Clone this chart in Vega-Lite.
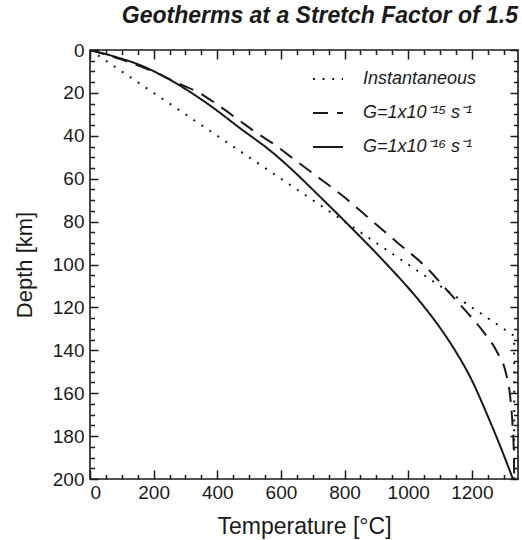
{
  "$schema": "https://vega.github.io/schema/vega-lite/v6.json",
  "width": 428,
  "height": 429,
  "autosize": {"type": "none"},
  "padding": {"left": 90, "top": 50, "right": 4, "bottom": 61},
  "background": "white",
  "config": {
    "font": "Liberation Sans",
    "view": {"stroke": "#1a1a1a", "strokeWidth": 1.6},
    "axis": {"grid": false, "domain": false, "tickColor": "#1a1a1a", "tickWidth": 1.5, "labelColor": "#1a1a1a", "titleColor": "#1a1a1a", "labelFont": "Liberation Sans", "titleFont": "Liberation Sans", "titleFontWeight": "normal"}
  },
  "title": {"text": "Geotherms at a Stretch Factor of 1.5", "anchor": "end", "frame": "group", "fontSize": 23, "fontWeight": "bold", "fontStyle": "italic", "font": "Liberation Sans", "color": "#1a1a1a", "baseline": "alphabetic", "offset": -5},
  "data": {"values": [
    {"series": "Instantaneous", "i": 0, "T": 0, "depth": 0},
    {"series": "Instantaneous", "i": 1, "T": 1333, "depth": 133.3},
    {"series": "Instantaneous", "i": 2, "T": 1333, "depth": 200},
    {"series": "G=1x10⁻¹⁵ s⁻¹", "i": 0, "T": 0, "depth": 0},
    {"series": "G=1x10⁻¹⁵ s⁻¹", "i": 1, "T": 100, "depth": 4.5},
    {"series": "G=1x10⁻¹⁵ s⁻¹", "i": 2, "T": 199, "depth": 10.1},
    {"series": "G=1x10⁻¹⁵ s⁻¹", "i": 3, "T": 283, "depth": 15.9},
    {"series": "G=1x10⁻¹⁵ s⁻¹", "i": 4, "T": 346, "depth": 20.2},
    {"series": "G=1x10⁻¹⁵ s⁻¹", "i": 5, "T": 409, "depth": 26.4},
    {"series": "G=1x10⁻¹⁵ s⁻¹", "i": 6, "T": 467, "depth": 32.6},
    {"series": "G=1x10⁻¹⁵ s⁻¹", "i": 7, "T": 525, "depth": 38.8},
    {"series": "G=1x10⁻¹⁵ s⁻¹", "i": 8, "T": 582, "depth": 44.3},
    {"series": "G=1x10⁻¹⁵ s⁻¹", "i": 9, "T": 624, "depth": 49},
    {"series": "G=1x10⁻¹⁵ s⁻¹", "i": 10, "T": 700, "depth": 57.5},
    {"series": "G=1x10⁻¹⁵ s⁻¹", "i": 11, "T": 790, "depth": 67.5},
    {"series": "G=1x10⁻¹⁵ s⁻¹", "i": 12, "T": 871, "depth": 77.7},
    {"series": "G=1x10⁻¹⁵ s⁻¹", "i": 13, "T": 960, "depth": 89},
    {"series": "G=1x10⁻¹⁵ s⁻¹", "i": 14, "T": 1060, "depth": 101.8},
    {"series": "G=1x10⁻¹⁵ s⁻¹", "i": 15, "T": 1122, "depth": 112},
    {"series": "G=1x10⁻¹⁵ s⁻¹", "i": 16, "T": 1180, "depth": 121.5},
    {"series": "G=1x10⁻¹⁵ s⁻¹", "i": 17, "T": 1237, "depth": 131.5},
    {"series": "G=1x10⁻¹⁵ s⁻¹", "i": 18, "T": 1280, "depth": 141},
    {"series": "G=1x10⁻¹⁵ s⁻¹", "i": 19, "T": 1306, "depth": 150},
    {"series": "G=1x10⁻¹⁵ s⁻¹", "i": 20, "T": 1320, "depth": 161},
    {"series": "G=1x10⁻¹⁵ s⁻¹", "i": 21, "T": 1328, "depth": 175},
    {"series": "G=1x10⁻¹⁵ s⁻¹", "i": 22, "T": 1332, "depth": 188},
    {"series": "G=1x10⁻¹⁵ s⁻¹", "i": 23, "T": 1333, "depth": 200},
    {"series": "G=1x10⁻¹⁶ s⁻¹", "i": 0, "T": 0, "depth": 0},
    {"series": "G=1x10⁻¹⁶ s⁻¹", "i": 1, "T": 80, "depth": 3.2},
    {"series": "G=1x10⁻¹⁶ s⁻¹", "i": 2, "T": 157, "depth": 7},
    {"series": "G=1x10⁻¹⁶ s⁻¹", "i": 3, "T": 262, "depth": 14.8},
    {"series": "G=1x10⁻¹⁶ s⁻¹", "i": 4, "T": 367, "depth": 24.8},
    {"series": "G=1x10⁻¹⁶ s⁻¹", "i": 5, "T": 472, "depth": 36.5},
    {"series": "G=1x10⁻¹⁶ s⁻¹", "i": 6, "T": 577, "depth": 48.2},
    {"series": "G=1x10⁻¹⁶ s⁻¹", "i": 7, "T": 629, "depth": 55},
    {"series": "G=1x10⁻¹⁶ s⁻¹", "i": 8, "T": 720, "depth": 68},
    {"series": "G=1x10⁻¹⁶ s⁻¹", "i": 9, "T": 818, "depth": 82.4},
    {"series": "G=1x10⁻¹⁶ s⁻¹", "i": 10, "T": 930, "depth": 99.5},
    {"series": "G=1x10⁻¹⁶ s⁻¹", "i": 11, "T": 1038, "depth": 117.5},
    {"series": "G=1x10⁻¹⁶ s⁻¹", "i": 12, "T": 1100, "depth": 129.5},
    {"series": "G=1x10⁻¹⁶ s⁻¹", "i": 13, "T": 1149, "depth": 140.5},
    {"series": "G=1x10⁻¹⁶ s⁻¹", "i": 14, "T": 1200, "depth": 154},
    {"series": "G=1x10⁻¹⁶ s⁻¹", "i": 15, "T": 1248, "depth": 170},
    {"series": "G=1x10⁻¹⁶ s⁻¹", "i": 16, "T": 1290, "depth": 185},
    {"series": "G=1x10⁻¹⁶ s⁻¹", "i": 17, "T": 1329, "depth": 200}
  ]},
  "resolve": {"axis": {"x": "independent", "y": "independent"}},
  "layer": [
    {
      "transform": [{"filter": "datum.series === 'Instantaneous'"}],
      "mark": {"type": "line", "strokeWidth": 2, "color": "#1a1a1a", "clip": true},
      "encoding": {
        "x": {"field": "T", "type": "quantitative", "scale": {"domain": [0, 1345], "nice": false, "zero": false},
              "axis": {"orient": "bottom", "values": [0, 200, 400, 600, 800, 1000, 1200], "format": "d", "tickSize": -9, "labelPadding": 13, "labelFontSize": 19, "title": "Temperature [°C]", "titleFontSize": 23, "titlePadding": 13}},
        "y": {"field": "depth", "type": "quantitative", "scale": {"domain": [0, 200], "nice": false, "reverse": true},
              "axis": {"orient": "left", "values": [0, 20, 40, 60, 80, 100, 120, 140, 160, 180, 200], "tickSize": -8, "labelPadding": 14, "labelFontSize": 19, "title": "Depth [km]", "titleFontSize": 22, "titlePadding": 16}},
        "strokeDash": {"field": "series", "type": "nominal",
              "scale": {"domain": ["Instantaneous", "G=1x10⁻¹⁵ s⁻¹", "G=1x10⁻¹⁶ s⁻¹"], "range": [[2, 7.6], [15, 9], [1, 0]]},
              "legend": {"title": null, "orient": "none", "legendX": 222, "legendY": 13, "padding": 0, "symbolType": "stroke", "symbolSize": 900, "symbolStrokeWidth": 2, "symbolStrokeColor": "#1a1a1a", "labelFontSize": 18, "labelFontStyle": "italic", "labelColor": "#1a1a1a", "labelOffset": 19, "rowPadding": 9}},
        "order": {"field": "i", "type": "quantitative"}
      }
    },
    {
      "transform": [{"filter": "datum.series !== 'Instantaneous'"}],
      "mark": {"type": "line", "strokeWidth": 2, "color": "#1a1a1a", "clip": true, "interpolate": "monotone"},
      "encoding": {
        "x": {"field": "T", "type": "quantitative", "scale": {"domain": [0, 1345], "nice": false, "zero": false}, "axis": null},
        "y": {"field": "depth", "type": "quantitative", "scale": {"domain": [0, 200], "nice": false, "reverse": true}, "axis": null},
        "strokeDash": {"field": "series", "type": "nominal",
              "scale": {"domain": ["Instantaneous", "G=1x10⁻¹⁵ s⁻¹", "G=1x10⁻¹⁶ s⁻¹"], "range": [[2, 7.6], [15, 9], [1, 0]]},
              "legend": {"title": null, "orient": "none", "legendX": 222, "legendY": 13, "padding": 0, "symbolType": "stroke", "symbolSize": 900, "symbolStrokeWidth": 2, "symbolStrokeColor": "#1a1a1a", "labelFontSize": 18, "labelFontStyle": "italic", "labelColor": "#1a1a1a", "labelOffset": 19, "rowPadding": 9}},
        "order": {"field": "i", "type": "quantitative"}
      }
    },
    {
      "mark": {"type": "point", "opacity": 0},
      "encoding": {
        "x": {"field": "T", "type": "quantitative", "scale": {"domain": [0, 1345], "nice": false, "zero": false},
              "axis": {"orient": "top", "values": [0, 200, 400, 600, 800, 1000, 1200], "tickSize": -9, "labels": false, "title": null}},
        "y": {"field": "depth", "type": "quantitative", "scale": {"domain": [0, 200], "nice": false, "reverse": true},
              "axis": {"orient": "right", "values": [0, 20, 40, 60, 80, 100, 120, 140, 160, 180, 200], "tickSize": -8, "labels": false, "title": null}}
      }
    },
    {
      "mark": {"type": "point", "opacity": 0},
      "encoding": {
        "x": {"field": "T", "type": "quantitative", "scale": {"domain": [0, 1345], "nice": false, "zero": false},
              "axis": {"orient": "bottom", "values": [50, 100, 150, 250, 300, 350, 450, 500, 550, 650, 700, 750, 850, 900, 950, 1050, 1100, 1150, 1250, 1300], "tickSize": -4.5, "labels": false, "title": null}},
        "y": {"field": "depth", "type": "quantitative", "scale": {"domain": [0, 200], "nice": false, "reverse": true},
              "axis": {"orient": "left", "values": [5, 10, 15, 25, 30, 35, 45, 50, 55, 65, 70, 75, 85, 90, 95, 105, 110, 115, 125, 130, 135, 145, 150, 155, 165, 170, 175, 185, 190, 195], "tickSize": -4.5, "labels": false, "title": null}}
      }
    },
    {
      "mark": {"type": "point", "opacity": 0},
      "encoding": {
        "x": {"field": "T", "type": "quantitative", "scale": {"domain": [0, 1345], "nice": false, "zero": false},
              "axis": {"orient": "top", "values": [50, 100, 150, 250, 300, 350, 450, 500, 550, 650, 700, 750, 850, 900, 950, 1050, 1100, 1150, 1250, 1300], "tickSize": -4.5, "labels": false, "title": null}},
        "y": {"field": "depth", "type": "quantitative", "scale": {"domain": [0, 200], "nice": false, "reverse": true},
              "axis": {"orient": "right", "values": [5, 10, 15, 25, 30, 35, 45, 50, 55, 65, 70, 75, 85, 90, 95, 105, 110, 115, 125, 130, 135, 145, 150, 155, 165, 170, 175, 185, 190, 195], "tickSize": -4.5, "labels": false, "title": null}}
      }
    }
  ]
}
